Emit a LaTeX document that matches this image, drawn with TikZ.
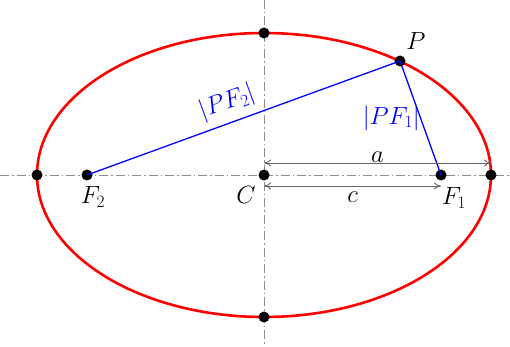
\documentclass[tikz,border=0pt]{standalone}
\usetikzlibrary{arrows.meta}
\begin{document}
\begin{tikzpicture}[x=1pt,y=-1pt,
  axisline/.style={gray!90,line width=0.9pt,dash pattern=on 9pt off 3pt on 1.5pt off 3pt},
  dotnode/.style={circle,fill=black,inner sep=0pt,minimum size=11pt},
  lbl/.style={font=\fontsize{23}{27}\selectfont,inner sep=1pt,text=black},
  seg/.style={blue,line width=1.3pt},
  dimarrow/.style={gray!80!black,line width=0.9pt,{To[length=7pt,width=7pt]}-{To[length=7pt,width=7pt]}}]
\useasboundingbox (0,0) rectangle (510,347);
% axes
\coordinate (XL) at (0,175);
\coordinate (XR) at (510,175);
\coordinate (YT) at (264,0);
\coordinate (YB) at (264,347);
\draw[axisline] (XL) -- (XR);
\draw[axisline] (YT) -- (YB);
% ellipse
\draw[red,line width=2.6pt] (264,175) ellipse [x radius=227,y radius=142];
% points
\node[dotnode] (C) at (264,175) {};
\node[dotnode] (F1) at (441,175) {};
\node[dotnode] (F2) at (87,175) {};
\node[dotnode] (V1) at (491,175) {};
\node[dotnode] (V2) at (37,175) {};
\node[dotnode] (B1) at (264,33) {};
\node[dotnode] (B2) at (264,317) {};
\node[dotnode] (P) at (400,61) {};
% focal segments
\draw[seg] (F2.center) -- node[lbl,sloped,above=6pt,text=blue,pos=0.47] {$|PF_2|$} (P.center);
\draw[seg] (P.center) -- node[lbl,left,text=blue,pos=0.5,xshift=1pt] {$|PF_1|$} (F1.center);
% dimension arrows
\draw[dimarrow] ([yshift=12pt]C.center) -- node[lbl,above,yshift=-1pt] {$a$} ([yshift=12pt]V1.center);
\draw[dimarrow] ([yshift=-11pt]C.center) -- node[lbl,below,yshift=-4pt] {$c$} ([yshift=-11pt]F1.center);
% labels
\node[lbl] (Pl) at (416,41) {$P$};
\node[lbl] (Cl) at (246,195) {$C$};
\node[lbl] (F1l) at (454,198) {$F_1$};
\node[lbl] (F2l) at (93,197) {$F_2$};
\end{tikzpicture}
\end{document}
